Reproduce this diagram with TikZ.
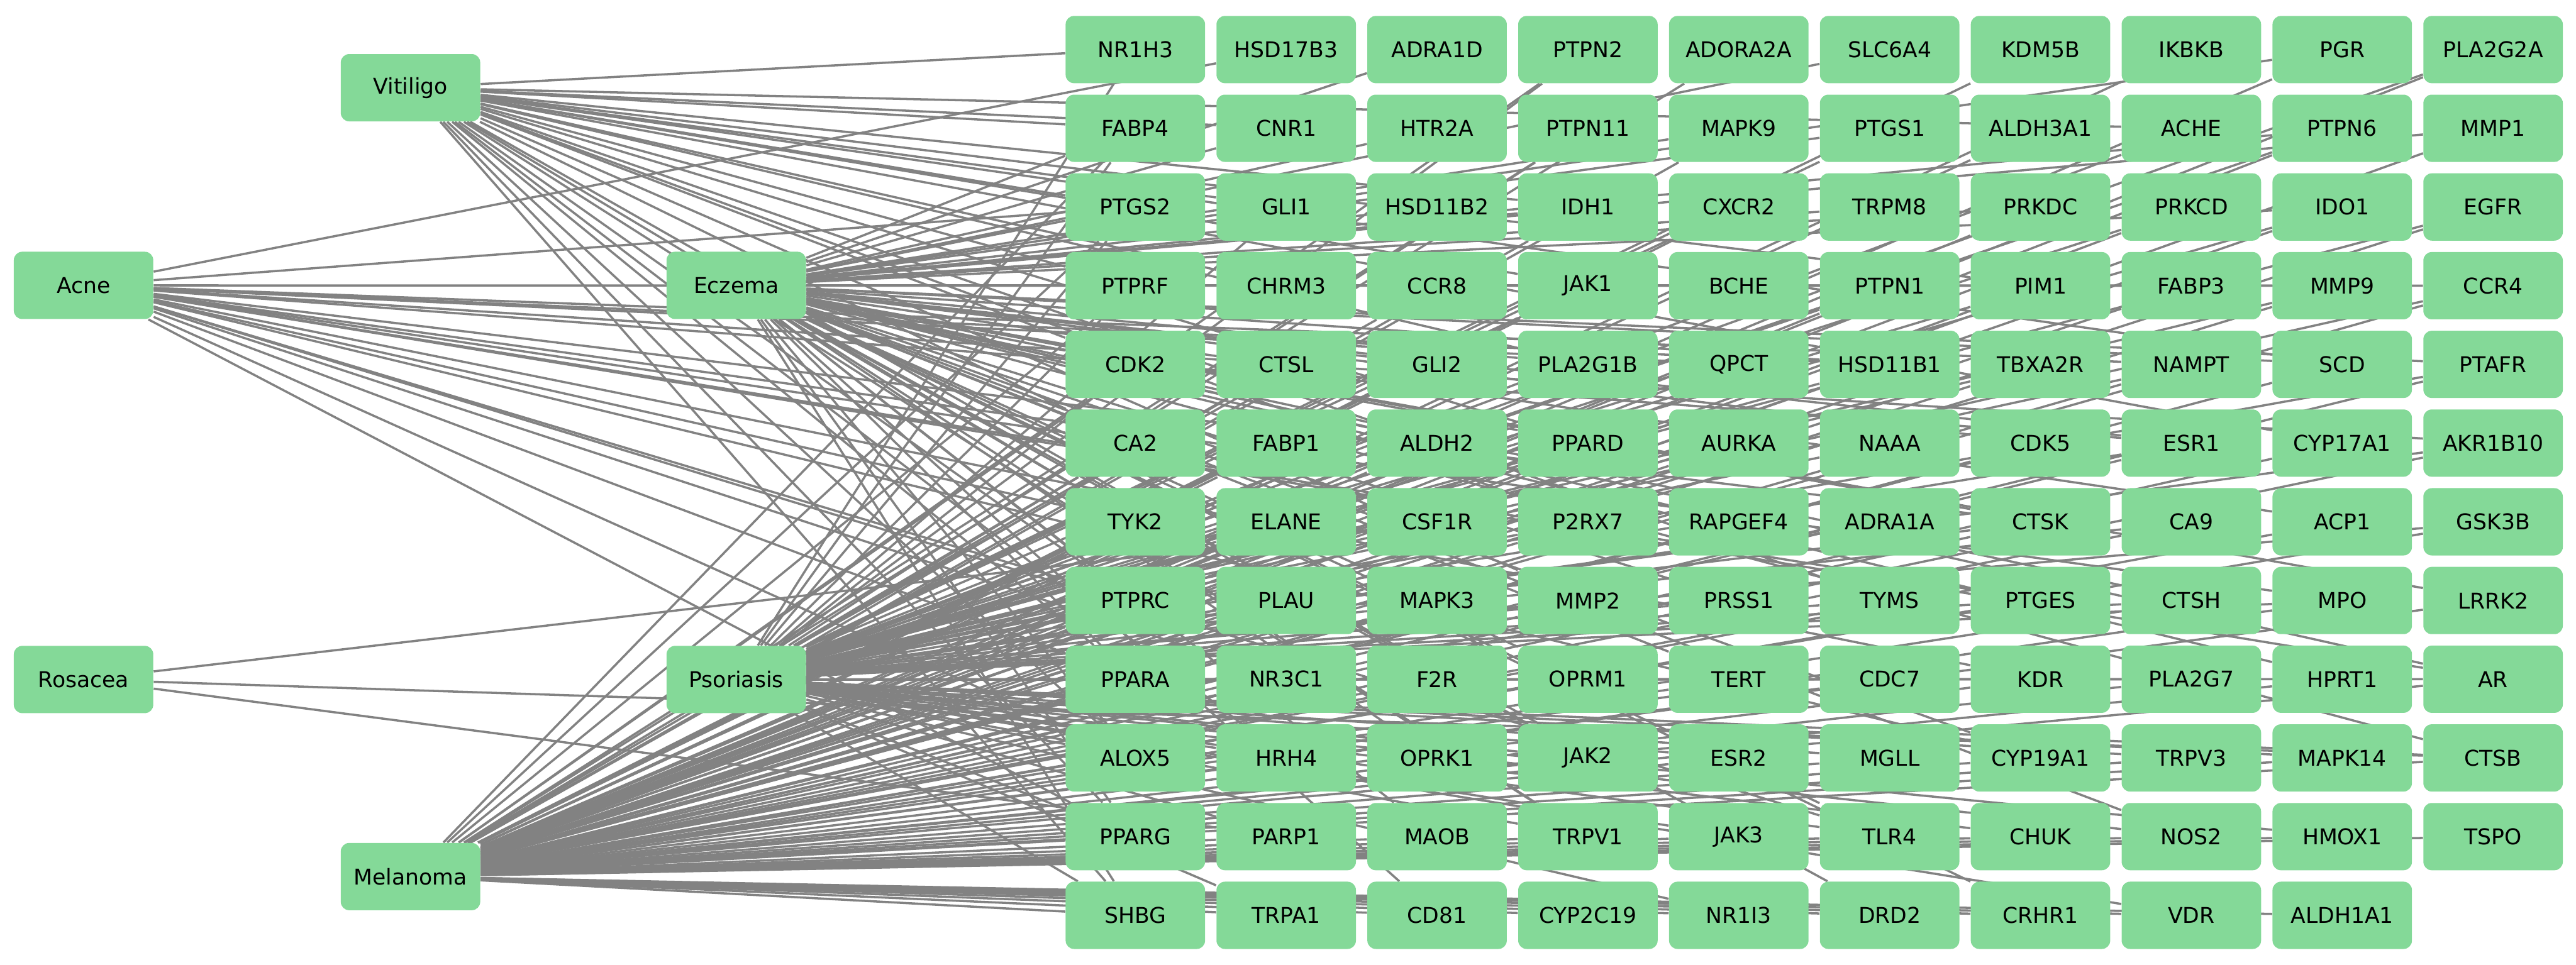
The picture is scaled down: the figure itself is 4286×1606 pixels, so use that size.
\documentclass[tikz,border=0pt]{standalone}
\usepackage{fontspec}
\setmainfont{DejaVu Sans}
\usetikzlibrary{backgrounds}
\definecolor{nodegreen}{RGB}{132,217,152}
\definecolor{edgegray}{RGB}{130,130,130}

\begin{document}
\begin{tikzpicture}[
    x=0.1mm, y=-0.1mm,
    box/.style={rectangle, rounded corners=1.4mm, fill=nodegreen, minimum width=23.2mm, minimum height=11.2mm, inner sep=0pt, text=black, font=\fontsize{10.3}{12}\selectfont},
    link/.style={draw=edgegray, line width=1.05pt}
]
    \useasboundingbox (0,0) rectangle (4286,1606);

    % Diseases
    \node[box] (Vitiligo) at (683,146) {Vitiligo};
    \node[box] (Acne) at (139,475) {Acne};
    \node[box] (Eczema) at (1225,475) {Eczema};
    \node[box] (Rosacea) at (139,1131) {Rosacea};
    \node[box] (Psoriasis) at (1225,1131) {Psoriasis};
    \node[box] (Melanoma) at (683,1459) {Melanoma};

    % Targets, row by row
    \foreach \row [count=\r] in {
        {NR1H3,HSD17B3,ADRA1D,PTPN2,ADORA2A,SLC6A4,KDM5B,IKBKB,PGR,PLA2G2A},
        {FABP4,CNR1,HTR2A,PTPN11,MAPK9,PTGS1,ALDH3A1,ACHE,PTPN6,MMP1},
        {PTGS2,GLI1,HSD11B2,IDH1,CXCR2,TRPM8,PRKDC,PRKCD,IDO1,EGFR},
        {PTPRF,CHRM3,CCR8,JAK1,BCHE,PTPN1,PIM1,FABP3,MMP9,CCR4},
        {CDK2,CTSL,GLI2,PLA2G1B,QPCT,HSD11B1,TBXA2R,NAMPT,SCD,PTAFR},
        {CA2,FABP1,ALDH2,PPARD,AURKA,NAAA,CDK5,ESR1,CYP17A1,AKR1B10},
        {TYK2,ELANE,CSF1R,P2RX7,RAPGEF4,ADRA1A,CTSK,CA9,ACP1,GSK3B},
        {PTPRC,PLAU,MAPK3,MMP2,PRSS1,TYMS,PTGES,CTSH,MPO,LRRK2},
        {PPARA,NR3C1,F2R,OPRM1,TERT,CDC7,KDR,PLA2G7,HPRT1,AR},
        {ALOX5,HRH4,OPRK1,JAK2,ESR2,MGLL,CYP19A1,TRPV3,MAPK14,CTSB},
        {PPARG,PARP1,MAOB,TRPV1,JAK3,TLR4,CHUK,NOS2,HMOX1,TSPO},
        {SHBG,TRPA1,CD81,CYP2C19,NR1I3,DRD2,CRHR1,VDR,ALDH1A1}} {
        \foreach \g [count=\c] in \row
            \node[box] (\g) at ({1889+251*(\c-1)},{82.5+131*(\r-1)}) {\g};
    }

    % Links (behind the boxes)
    \begin{pgfonlayer}{background}
        \foreach \g in {PTPN2,ADORA2A,IKBKB,PGR,PLA2G2A,FABP4,PTPN11,MAPK9,ALDH3A1,PTPN6,MMP1,
            PTGS2,IDH1,CXCR2,PRKDC,PRKCD,IDO1,EGFR,PTPRF,JAK1,PTPN1,PIM1,FABP3,MMP9,CCR4,
            CDK2,CTSL,GLI2,HSD11B1,TBXA2R,NAMPT,SCD,PTAFR,CA2,FABP1,ALDH2,PPARD,AURKA,CDK5,ESR1,CYP17A1,AKR1B10,
            TYK2,ELANE,CSF1R,P2RX7,CTSK,CA9,ACP1,GSK3B,PTPRC,PLAU,MAPK3,MMP2,TYMS,PTGES,CTSH,MPO,LRRK2,
            PPARA,NR3C1,F2R,TERT,CDC7,KDR,PLA2G7,HPRT1,AR,ALOX5,JAK2,ESR2,MGLL,CYP19A1,TRPV3,MAPK14,CTSB,
            PPARG,PARP1,MAOB,TRPV1,JAK3,TLR4,CHUK,NOS2,HMOX1,TSPO,SHBG,TRPA1,CD81,CYP2C19,NR1I3,DRD2,CRHR1,VDR,ALDH1A1}
            \draw[link] (Melanoma) -- (\g);
        \foreach \g in {NR1H3,PTPN2,KDM5B,PLA2G2A,FABP4,PTPN11,PTGS1,ACHE,PTPN6,PTGS2,GLI1,CXCR2,PRKCD,IDO1,EGFR,
            PTPRF,CCR8,JAK1,PTPN1,PIM1,MMP9,CCR4,CDK2,CTSL,PLA2G1B,QPCT,HSD11B1,TBXA2R,NAMPT,PTAFR,
            CA2,FABP1,PPARD,AURKA,NAAA,ESR1,AKR1B10,TYK2,ELANE,P2RX7,ADRA1A,CTSK,CA9,GSK3B,
            PTPRC,PLAU,MMP2,PRSS1,TYMS,PTGES,CTSH,MPO,PPARA,NR3C1,F2R,CDC7,KDR,PLA2G7,AR,
            ALOX5,HRH4,JAK2,ESR2,MGLL,TRPV3,MAPK14,CTSB,PPARG,PARP1,TRPV1,JAK3,TLR4,CHUK,NOS2,HMOX1,
            SHBG,TRPA1,NR1I3,VDR}
            \draw[link] (Psoriasis) -- (\g);
        \foreach \g in {ADRA1D,SLC6A4,PGR,FABP4,CNR1,HTR2A,MAPK9,PTGS1,PTPN6,MMP1,PTGS2,HSD11B2,IDH1,TRPM8,PRKDC,IDO1,
            PTPRF,CHRM3,JAK1,BCHE,PTPN1,FABP3,MMP9,CCR4,CDK2,GLI2,PLA2G1B,HSD11B1,SCD,PTAFR,
            CA2,ALDH2,PPARD,CDK5,ESR1,TYK2,CSF1R,RAPGEF4,CTSK,ACP1,PTPRC,MAPK3,PRSS1,CTSH,LRRK2,
            PPARA,OPRM1,TERT,HPRT1,AR,ALOX5,OPRK1,JAK2,CYP19A1,CTSB,PPARG,MAOB,TRPV1,TLR4,NOS2,SHBG,CD81,DRD2,CRHR1}
            \draw[link] (Eczema) -- (\g);
        \foreach \g in {NR1H3,FABP4,CNR1,ACHE,PTGS2,GLI1,IDH1,PTPRF,CHRM3,JAK1,PIM1,CDK2,PLA2G1B,SCD,CA2,PPARD,CYP17A1,
            TYK2,P2RX7,PTPRC,MMP2,TYMS,PPARA,ALOX5,HRH4,JAK2,PPARG,TRPV1,SHBG}
            \draw[link] (Vitiligo) -- (\g);
        \foreach \g in {HSD17B3,PTGS2,PTPRF,QPCT,HSD11B1,NAMPT,CA2,ESR1,AKR1B10,TYK2,CTSK,PTPRC,PTGES,MPO,
            PPARA,NR3C1,KDR,AR,ALOX5,CYP19A1,PPARG,TLR4}
            \draw[link] (Acne) -- (\g);
        \foreach \g in {CSF1R,CTSB,PARP1}
            \draw[link] (Rosacea) -- (\g);
    \end{pgfonlayer}
\end{tikzpicture}
\end{document}
